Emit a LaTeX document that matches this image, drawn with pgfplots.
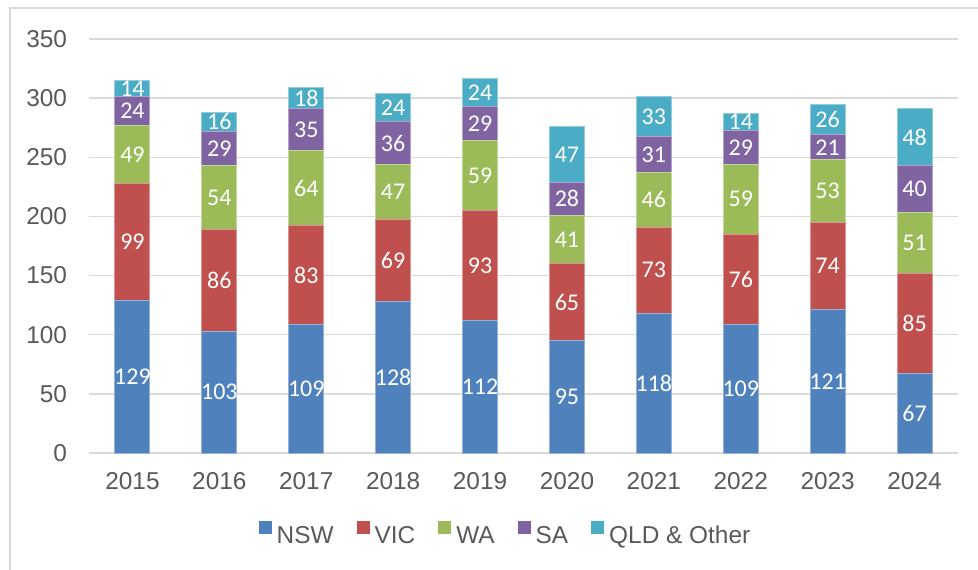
\documentclass[border=0pt]{standalone}
\usepackage{pgfplots}
\usepackage{pgfplotstable}
\pgfplotsset{compat=1.18}
\usepackage{fontspec}
\setmainfont{Liberation Sans}
\newfontfamily\carlito{Carlito}
\definecolor{cnsw}{HTML}{4F81BD}
\definecolor{cvic}{HTML}{C0504D}
\definecolor{cwa}{HTML}{9BBB59}
\definecolor{csa}{HTML}{8064A2}
\definecolor{cqld}{HTML}{4BACC6}
\definecolor{gridgray}{HTML}{D9D9D9}
\definecolor{labelgray}{HTML}{595959}

\pgfplotstableread{
idx nsw vic wa sa qld
0 129 99 49 24 14
1 103 86 54 29 16
2 109 83 64 35 18
3 128 69 47 36 24
4 112 93 59 29 24
5 95 65 41 28 47
6 118 73 46 31 33
7 109 76 59 29 14
8 121 74 53 21 26
9 67 85 51 40 48
}\data

\begin{document}
\begin{tikzpicture}
\path[use as bounding box] (0,0) rectangle (489pt,284.5pt);
\draw[gridgray, line width=1pt] (5pt,-1pt) -- (5pt,280.5pt) -- (490pt,280.5pt);
\begin{axis}[
  at={(44.5pt,58pt)}, anchor=south west,
  scale only axis, width=434.5pt, height=207pt,
  ybar stacked, bar width=17.5pt,
  xmin=-0.5, xmax=9.5, ymin=0, ymax=350,
  xtick={0,...,9},
  xticklabels={2015,2016,2017,2018,2019,2020,2021,2022,2023,2024},
  ytick={0,50,...,350},
  ymajorgrids, grid style={color=gridgray, line width=0.75pt},
  axis line style={draw=none},
  major tick style={draw=none},
  tick label style={font=\fontsize{12.2}{14}\selectfont, text=labelgray},
  xticklabel style={anchor=north, inner sep=0pt, yshift=-9.5pt},
  yticklabel style={anchor=east, inner sep=0pt, xshift=-10.8pt},
  /pgf/number format/assume math mode=true,
  nodes near coords,
  every node near coord/.append style={font=\carlito\fontsize{12}{14}\selectfont,
    text=white, anchor=center, inner sep=0pt},
  legend image code/.code={\fill[#1, draw=none] (0pt,1pt) rectangle (6.5pt,7.5pt);},
  legend style={at={(0.4781,-0.1957)}, anchor=center, draw=none, fill=none,
    legend columns=-1, font=\fontsize{12.2}{14}\selectfont, text=labelgray,
    nodes={inner sep=0pt},
    /tikz/every odd column/.append style={column sep=2.5pt},
    /tikz/every even column/.append style={column sep=11.5pt}},
]
\addplot[fill=cnsw, draw=cnsw!60!white, line width=0.5pt] table[x=idx, y=nsw] {\data};
\addplot[fill=cvic, draw=cvic!60!white, line width=0.5pt] table[x=idx, y=vic] {\data};
\addplot[fill=cwa, draw=cwa!60!white, line width=0.5pt] table[x=idx, y=wa] {\data};
\addplot[fill=csa, draw=csa!60!white, line width=0.5pt] table[x=idx, y=sa] {\data};
\addplot[fill=cqld, draw=cqld!60!white, line width=0.5pt] table[x=idx, y=qld] {\data};
\legend{NSW,VIC,WA,SA,QLD \& Other}
\end{axis}
\end{tikzpicture}
\end{document}
